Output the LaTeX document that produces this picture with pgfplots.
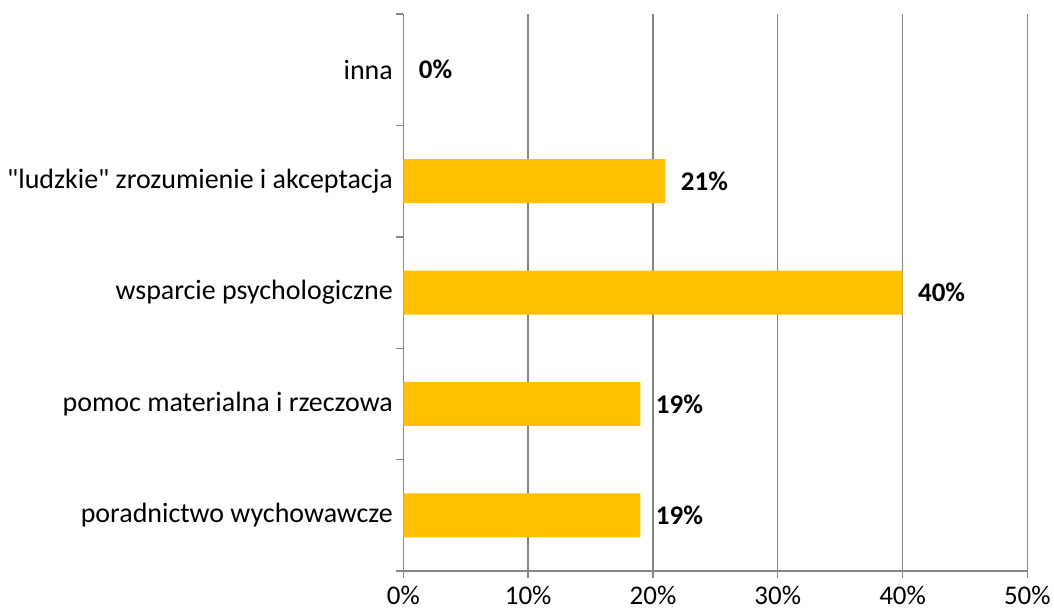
\documentclass[border=0pt]{standalone}
\usepackage{pgfplots}
\pgfplotsset{compat=1.18}
\usepackage{fontspec}
\setmainfont{Carlito}[Ligatures=TeXOff]
\definecolor{barc}{HTML}{FFC000}
\definecolor{gridc}{HTML}{868686}
\begin{document}
\begin{tikzpicture}
\begin{axis}[
  at={(0,0)}, anchor=south west,
  scale only axis, width=625pt, height=558pt,
  xbar, bar width=44pt,
  xmin=0, xmax=50,
  ymin=-0.5, ymax=4.5,
  xtick={0,10,20,30,40,50},
  xticklabels={0\%,10\%,20\%,30\%,40\%,50\%},
  ytick={-0.5,0.5,1.5,2.5,3.5,4.5},
  yticklabels={},
  extra y ticks={0,1,2,3,4},
  extra y tick labels={poradnictwo wychowawcze,pomoc materialna i rzeczowa,wsparcie psychologiczne,{"ludzkie" zrozumienie i akceptacja},inna},
  extra y tick style={major tick length=0pt, grid=none},
  axis x line*=bottom, axis y line*=left,
  axis line style={gridc, line width=1.4pt},
  tick style={gridc, line width=1.4pt},
  tick align=outside, major tick length=7pt,
  xmajorgrids, grid style={gridc, line width=1.4pt},
  ymajorgrids=false,
  tick label style={font=\fontsize{28}{33}\selectfont, text=black},
  /pgf/number format/assume math mode=true,
  xticklabel style={yshift=-5pt, font=\fontsize{27}{32}\selectfont},
  yticklabel style={xshift=-7pt},
  point meta=explicit symbolic,
  nodes near coords,
  every node near coord/.append style={font=\fontsize{27}{32}\bfseries, anchor=west, xshift=12pt, text=black},
  clip=false,
]
\addplot[fill=barc, draw=none] coordinates {
  (19,0) [19\%]
  (19,1) [19\%]
  (40,2) [40\%]
  (21,3) [21\%]
  (0,4) [0\%]
};
\end{axis}
\useasboundingbox (-404pt,-44pt) rectangle (650pt,572pt);
\end{tikzpicture}
\end{document}
